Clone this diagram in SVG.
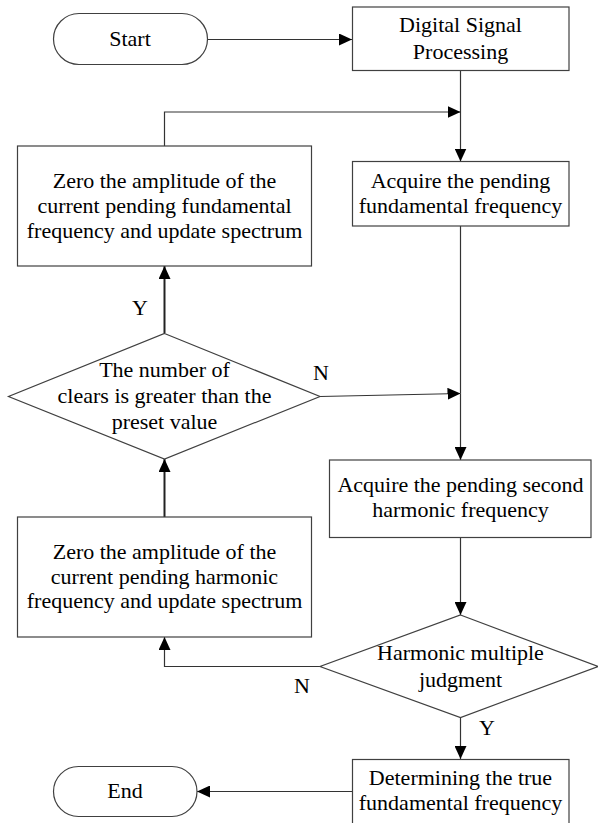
<svg xmlns="http://www.w3.org/2000/svg" width="598" height="823" viewBox="0 0 598 823">
<defs>
<marker id="ah" viewBox="0 0 13 12" refX="13" refY="6" markerWidth="13" markerHeight="12" markerUnits="userSpaceOnUse" orient="auto">
<path d="M0,0 L13,6 L0,12 Z" fill="#000"/>
</marker>
</defs>
<style>
.box{fill:#fff;stroke:#404040;stroke-width:1.2}
.t{font-family:"Liberation Serif","Times New Roman",serif;font-size:22px;fill:#000;text-anchor:middle}
.c{fill:none;stroke:#333;stroke-width:1.2}
.ca{fill:none;stroke:#333;stroke-width:1.2;marker-end:url(#ah)}
.cb{fill:none;stroke:#222;stroke-width:2;marker-end:url(#ah)}
</style>
<rect width="598" height="823" fill="#fff"/>
<g id="connectors">
<path class="ca" d="M207,39.5 H352"/>
<path class="c" d="M460.5,70.5 V112"/>
<path class="ca" d="M460.5,112 V161.5"/>
<path class="ca" d="M164.5,146 V112 H460.5"/>
<path class="cb" d="M164.5,333 V266"/>
<path class="ca" d="M320,396.5 L460.5,393.5"/>
<path class="c" d="M460.5,226 V393.5"/>
<path class="ca" d="M460.5,393.5 V460"/>
<path class="cb" d="M164.5,517 V459"/>
<path class="ca" d="M460.5,537.5 V615"/>
<path class="ca" d="M320,666.5 H164.5 V637"/>
<path class="ca" d="M460.5,717.5 V759"/>
<path class="ca" d="M352.5,791.5 H197"/>
</g>
<g id="start">
<rect class="box" x="53.5" y="13.5" width="154" height="51" rx="25.5" ry="25.5"/>
<text class="t" x="130" y="46">Start</text>
</g>
<g id="dsp">
<rect class="box" x="352.5" y="7" width="216.5" height="63.5"/>
<text class="t" x="460.5" y="32">Digital Signal</text>
<text class="t" x="460.5" y="59">Processing</text>
</g>
<g id="acquire-fundamental">
<rect class="box" x="352.5" y="161.5" width="216.5" height="64.5"/>
<text class="t" x="460.5" y="188">Acquire the pending</text>
<text class="t" x="460.5" y="213">fundamental frequency</text>
</g>
<g id="zero-fundamental">
<rect class="box" x="17.5" y="146" width="294" height="120"/>
<text class="t" x="164.5" y="188">Zero the amplitude of the</text>
<text class="t" x="164.5" y="213">current pending fundamental</text>
<text class="t" x="164.5" y="238">frequency and update spectrum</text>
</g>
<g id="clears-decision">
<path class="box" d="M164.5,333.5 L320,396.5 L164.5,459 L8.5,396.5 Z"/>
<text class="t" x="164.5" y="377">The number of</text>
<text class="t" x="164.5" y="403">clears is greater than the</text>
<text class="t" x="164.5" y="429">preset value</text>
</g>
<g id="acquire-second">
<rect class="box" x="329.5" y="460" width="261.5" height="77.5"/>
<text class="t" x="460.5" y="492">Acquire the pending second</text>
<text class="t" x="460.5" y="517">harmonic frequency</text>
</g>
<g id="zero-harmonic">
<rect class="box" x="17.5" y="517" width="294" height="120"/>
<text class="t" x="164.5" y="559">Zero the amplitude of the</text>
<text class="t" x="164.5" y="584">current pending harmonic</text>
<text class="t" x="164.5" y="608">frequency and update spectrum</text>
</g>
<g id="harmonic-decision">
<path class="box" d="M460.5,615 L598,666.5 L460.5,717.5 L320,666.5 Z"/>
<text class="t" x="460.5" y="660">Harmonic multiple</text>
<text class="t" x="460.5" y="687">judgment</text>
</g>
<g id="determine">
<rect class="box" x="352.5" y="759.5" width="216.5" height="70"/>
<text class="t" x="460.5" y="785">Determining the true</text>
<text class="t" x="460.5" y="810">fundamental frequency</text>
</g>
<g id="end">
<rect class="box" x="53.5" y="766.5" width="143.5" height="50" rx="25" ry="25"/>
<text class="t" x="125" y="798">End</text>
</g>
<g id="labels">
<text class="t" x="140" y="315">Y</text>
<text class="t" x="321" y="380">N</text>
<text class="t" x="302" y="693">N</text>
<text class="t" x="487" y="735">Y</text>
</g>
</svg>
